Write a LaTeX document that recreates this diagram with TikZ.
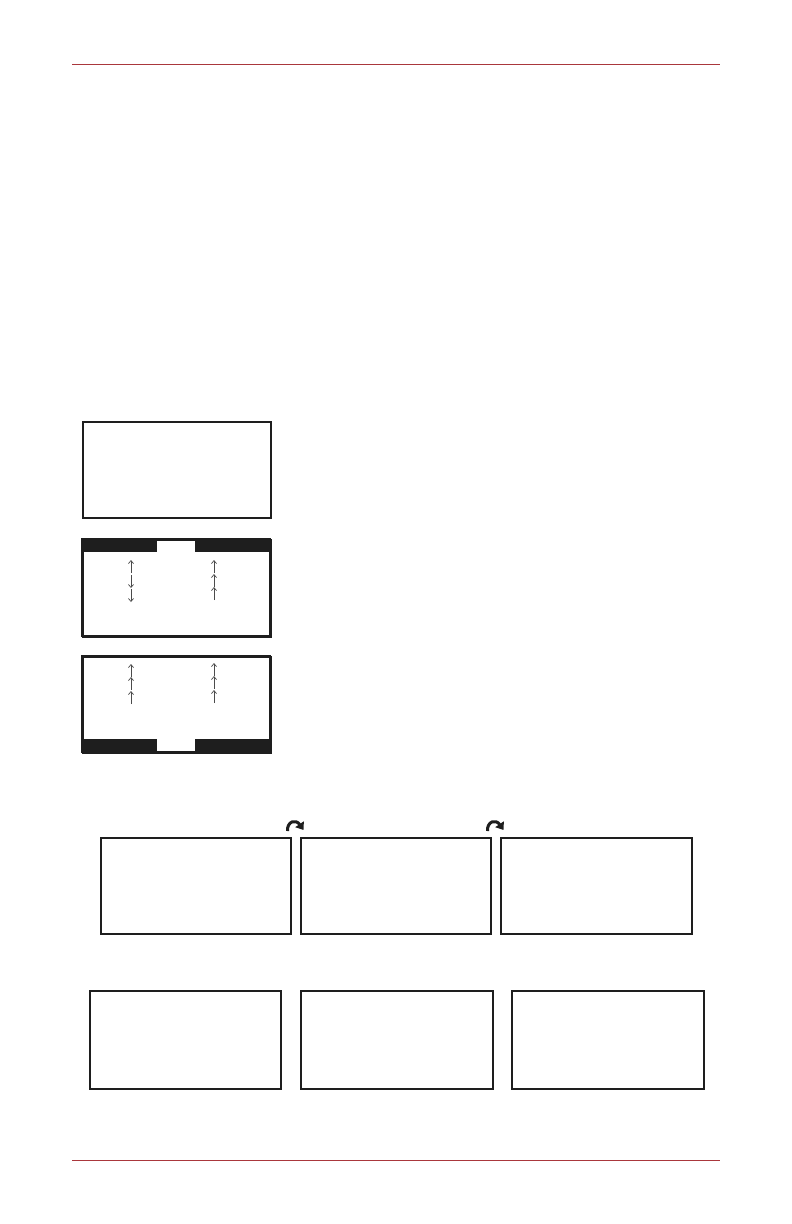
\documentclass[tikz,border=0pt]{standalone}
\usetikzlibrary{arrows.meta}
\definecolor{rule}{RGB}{170,55,60}
\definecolor{ink}{RGB}{30,30,30}
\begin{document}
\begin{tikzpicture}[x=1pt,y=-1pt,
  panel/.style={draw=ink,line width=2pt,fill=white},
  band/.style={fill=ink},
  tiny/.style={draw=ink!80,line width=0.7pt,-{Straight Barb[length=3pt,width=5pt]}},
  turn/.style={draw=ink,line width=3pt,-{Triangle[length=7pt,width=10pt]}},
  hr/.style={draw=rule,line width=1pt}]
\useasboundingbox (0,0) rectangle (792,1224);
\coordinate (ta) at (72,64); \coordinate (tb) at (720,64);
\draw[hr] (ta) -- (tb);
\coordinate (ba) at (72,1160); \coordinate (bb) at (720,1160);
\draw[hr] (ba) -- (bb);
% box 1
\node[panel,minimum width=188pt,minimum height=96pt,anchor=north west,inner sep=0pt] (p1) at (82,421) {};
% box 2
\node[panel,minimum width=188pt,minimum height=97pt,anchor=north west,inner sep=0pt] (p2) at (82,539) {};
\fill[band] (82,539) rectangle (157,552);
\fill[band] (195,539) rectangle (270,552);
\draw[panel,fill=none] (82,539) rectangle (270,636);
\coordinate (a1s) at (131,573); \coordinate (a1e) at (131,560);
\draw[tiny] (a1s) -- (a1e);
\coordinate (a2s) at (131,575); \coordinate (a2e) at (131,588);
\draw[tiny] (a2s) -- (a2e);
\coordinate (a3s) at (131,589); \coordinate (a3e) at (131,602);
\draw[tiny] (a3s) -- (a3e);
\coordinate (b1s) at (214,573); \coordinate (b1e) at (214,560);
\draw[tiny] (b1s) -- (b1e);
\coordinate (b2s) at (214,587); \coordinate (b2e) at (214,574);
\draw[tiny] (b2s) -- (b2e);
\coordinate (b3s) at (214,600); \coordinate (b3e) at (214,587);
\draw[tiny] (b3s) -- (b3e);
% box 3
\node[panel,minimum width=188pt,minimum height=96pt,anchor=north west,inner sep=0pt] (p3) at (82,656) {};
\fill[band] (82,739) rectangle (157,752);
\fill[band] (195,739) rectangle (270,752);
\draw[panel,fill=none] (82,656) rectangle (270,752);
\coordinate (c1s) at (131,677); \coordinate (c1e) at (131,664);
\draw[tiny] (c1s) -- (c1e);
\coordinate (c2s) at (131,690); \coordinate (c2e) at (131,677);
\draw[tiny] (c2s) -- (c2e);
\coordinate (c3s) at (131,704); \coordinate (c3e) at (131,691);
\draw[tiny] (c3s) -- (c3e);
\coordinate (d1s) at (214,676); \coordinate (d1e) at (214,663);
\draw[tiny] (d1s) -- (d1e);
\coordinate (d2s) at (214,689); \coordinate (d2e) at (214,676);
\draw[tiny] (d2s) -- (d2e);
\coordinate (d3s) at (214,703); \coordinate (d3e) at (214,690);
\draw[tiny] (d3s) -- (d3e);
% row of three
\node[panel,minimum width=190pt,minimum height=96pt,anchor=north west,inner sep=0pt] (r1) at (100,837) {};
\node[panel,minimum width=190pt,minimum height=96pt,anchor=north west,inner sep=0pt] (r2) at (300,837) {};
\node[panel,minimum width=191pt,minimum height=96pt,anchor=north west,inner sep=0pt] (r3) at (500,837) {};
\coordinate (t1s) at (287.5,831); \coordinate (t1e) at (303.5,830);
\draw[turn] (t1s) .. controls (287,821) and (296,819) .. (t1e);
\coordinate (t2s) at (487.5,831); \coordinate (t2e) at (503.5,830);
\draw[turn] (t2s) .. controls (487,821) and (496,819) .. (t2e);
% bottom row
\node[panel,minimum width=191pt,minimum height=98pt,anchor=north west,inner sep=0pt] (s1) at (89,990) {};
\node[panel,minimum width=192pt,minimum height=98pt,anchor=north west,inner sep=0pt] (s2) at (300,990) {};
\node[panel,minimum width=192pt,minimum height=98pt,anchor=north west,inner sep=0pt] (s3) at (511,990) {};
\end{tikzpicture}
\end{document}
